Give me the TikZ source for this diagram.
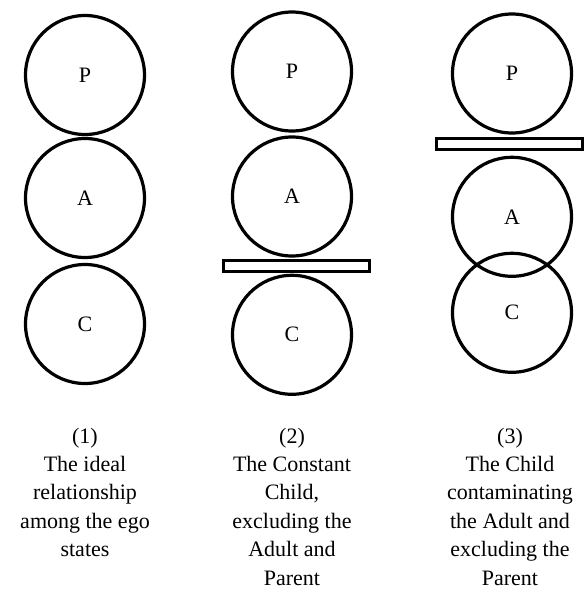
\documentclass[tikz,border=0pt]{standalone}
\usepackage{fontspec}
\setmainfont{Liberation Serif}
\usetikzlibrary{positioning}

\begin{document}
\begin{tikzpicture}[x=1pt, y=-1pt,
  ego/.style={circle, draw, line width=3.2pt, minimum size=119pt, inner sep=0pt, font=\fontsize{22}{26}\selectfont},
  wall/.style={rectangle, draw, line width=3pt, minimum width=146pt, minimum height=11pt, inner sep=0pt},
  caption/.style={align=center, font=\fontsize{22}{28.4}\selectfont, inner sep=0pt}
]
  \useasboundingbox (0,0) rectangle (584,589);

  % (1) ideal
  \node[ego] (P1) at (85,75) {P};
  \node[ego, below=0.8pt of P1] (A1) {A};
  \node[ego, below=3.8pt of A1] (C1) {C};

  % (2) constant child
  \node[ego] (P2) at (292,71.5) {P};
  \node[ego, below=2.8pt of P2] (A2) {A};
  \node[wall, below=1.3pt of A2, xshift=4pt] (wall2) {};
  \node[ego, below=0.8pt of wall2, xshift=-4pt] (C2) {C};

  % (3) contamination
  \node[ego] (P3) at (512,73.5) {P};
  \node[wall, below=2.3pt of P3, xshift=-3pt] (wall3) {};
  \node[ego, below=4.8pt of wall3, xshift=3pt] (A3) {A};
  \node[ego, below=-26.2pt of A3] (C3) {C};

  % captions (base = last line)
  \node[caption, anchor=base] (cap1) at (85,556.6) {(1)\\The ideal\\relationship\\among the ego\\states};
  \node[caption, anchor=base] (cap2) at (292,585) {(2)\\The Constant\\Child,\\excluding the\\Adult and\\Parent};
  \node[caption, anchor=base] (cap3) at (510,585) {(3)\\The Child\\contaminating\\the Adult and\\excluding the\\Parent};
\end{tikzpicture}
\end{document}
